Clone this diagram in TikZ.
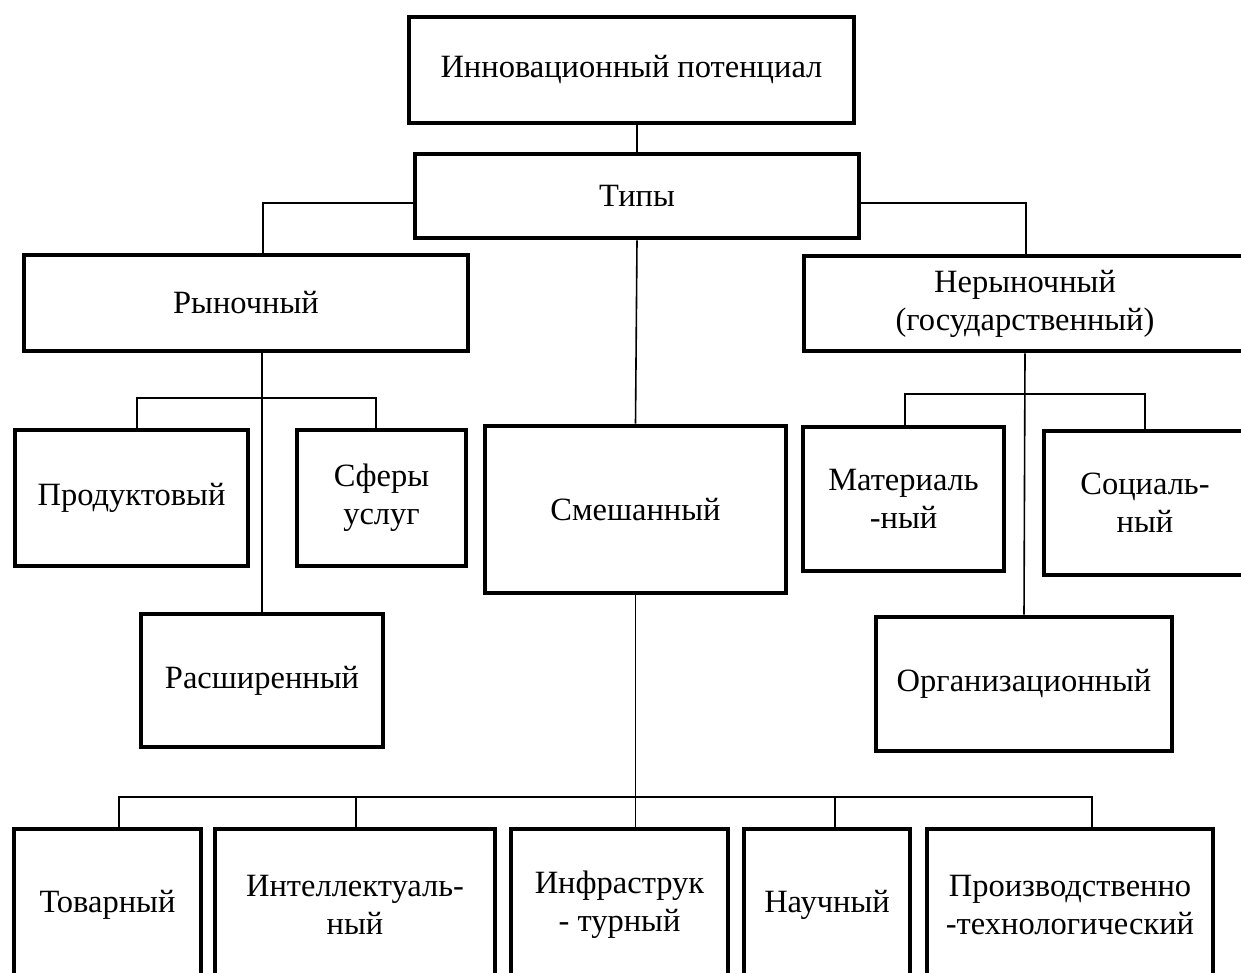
\documentclass[tikz,border=0pt]{standalone}
\usepackage{fontspec}
\setmainfont{Liberation Serif}
\begin{document}
\begin{tikzpicture}[x=1pt, y=-1pt,
    box/.style={
        draw,
        line width=4.6pt,
        inner sep=2pt,
        align=center,
        font=\fontsize{32.5}{38}\selectfont
    },
    link/.style={
        line width=1.6pt
    }
]
\useasboundingbox (0,0) rectangle (1241,973);
\clip (0,0) rectangle (1241,973);

% --- Top ---
\node[box, minimum width=445pt, minimum height=106pt] (pot) at (631.5,70) {Инновационный потенциал};
\node[box, minimum width=444pt, minimum height=84pt] (tipy) at (637,196) {Типы};

% --- Level 1 ---
\node[box, minimum width=444pt, minimum height=96pt] (ryn) at (246,303) {Рыночный};
\node[box, minimum width=442pt, minimum height=95pt] (neryn) at (1025,303.5) {Нерыночный\\(государственный)};
\node[box, minimum width=301pt, minimum height=167pt] (smesh) at (635.5,509.5) {Смешанный};

% --- Level 2 ---
\node[box, minimum width=233pt, minimum height=136pt] (prod) at (131.5,498) {Продуктовый};
\node[box, minimum width=169pt, minimum height=136pt] (sfery) at (381.5,498) {Сферы\\услуг};
\node[box, minimum width=242pt, minimum height=133pt] (rassh) at (262,680.5) {Расширенный};
\node[box, minimum width=201pt, minimum height=144pt] (mat) at (903.5,499) {Материаль\\-ный};
\node[box, minimum width=202pt, minimum height=144pt] (soc) at (1145,503) {Социаль-\\ный};
\node[box, minimum width=296pt, minimum height=134pt] (org) at (1024,684) {Организационный};

% --- Bottom row ---
\node[box, minimum width=187pt, minimum height=152pt] (tov) at (107.5,905) {Товарный};
\node[box, minimum width=280pt, minimum height=152pt] (intel) at (355,905) {Интеллектуаль-\\ный};
\node[box, minimum width=217pt, minimum height=152pt] (infra) at (619.5,905) {Инфраструк\\- турный};
\node[box, minimum width=166pt, minimum height=152pt] (nauch) at (827,905) {Научный};
\node[box, minimum width=286pt, minimum height=152pt] (proizv) at (1070,905) {Производственно\\-технологический};

% --- Links: top ---
\draw[link] (tipy.north |- pot.south) -- (tipy.north);
\coordinate (tl) at (263,203);
\coordinate (tr) at (1026,203);
\draw[link] (tipy.west |- tl) -- (tl) -- (tl |- ryn.north);
\draw[link] (tipy.east |- tr) -- (tr) -- (tr |- neryn.north);
\draw[link] (tipy.south) -- (smesh.north);

% --- Links: market ---
\draw[link] (rassh.north |- ryn.south) -- (rassh.north);
\coordinate (rl) at (137,398);
\coordinate (rr) at (376,398);
\draw[link] (rl |- prod.north) -- (rl) -- (rr) -- (rr |- sfery.north);

% --- Links: non-market ---
\draw[link] (neryn.south) -- (org.north);
\coordinate (nl) at (905,394);
\coordinate (nr) at (1145,394);
\draw[link] (nl |- mat.north) -- (nl) -- (nr) -- (nr |- soc.north);

% --- Links: mixed ---
\draw[link] (smesh.south) -- (smesh.south |- infra.north);
\coordinate (bl) at (119,797);
\coordinate (br) at (1092,797);
\coordinate (bi) at (356,797);
\coordinate (bn) at (835,797);
\draw[link] (bl |- tov.north) -- (bl) -- (br) -- (br |- proizv.north);
\draw[link] (bi) -- (bi |- intel.north);
\draw[link] (bn) -- (bn |- nauch.north);

\end{tikzpicture}
\end{document}
